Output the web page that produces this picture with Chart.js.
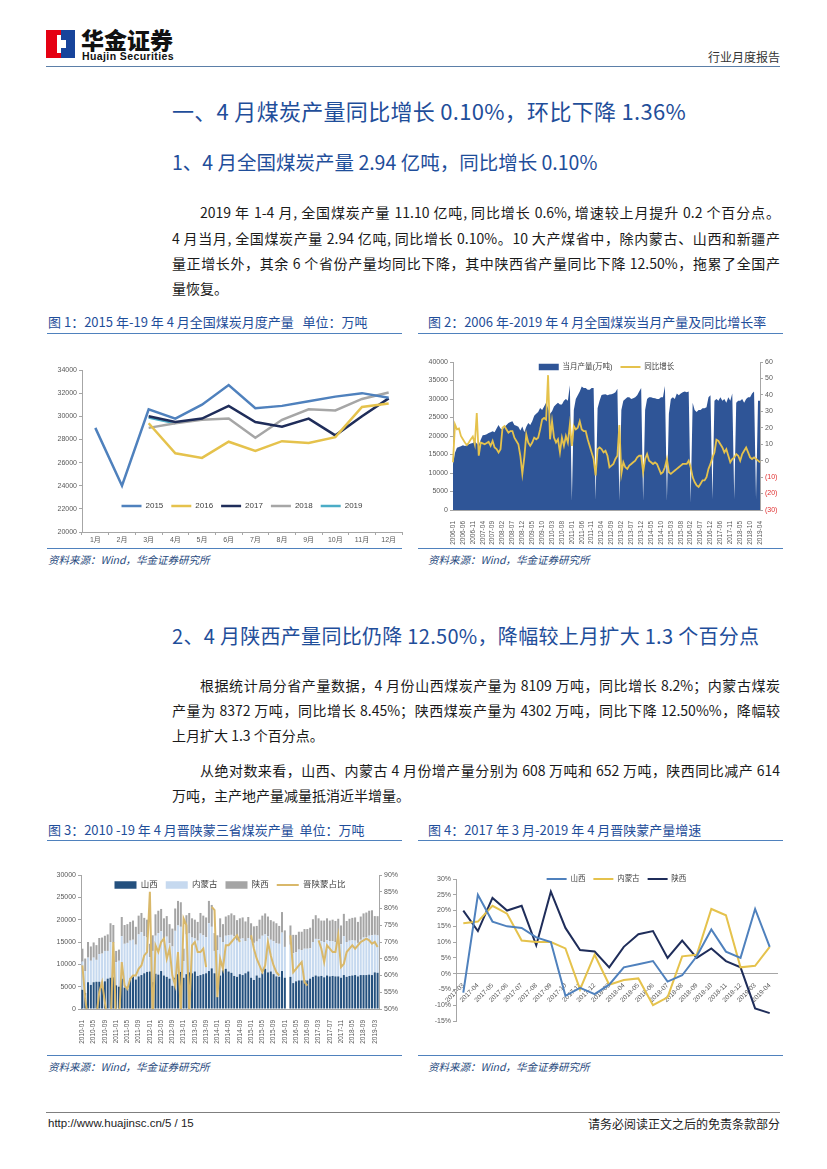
<!DOCTYPE html>
<html>
<head>
<meta charset="utf-8">
<script src="https://cdn.jsdelivr.net/npm/chart.js@4.4.1/dist/chart.umd.min.js"></script>
<style>
  body { margin: 0; background: #fff; width: 827px; height: 1169px; position: relative; overflow: hidden;
         font-family: 'Noto Sans CJK SC', sans-serif; color: #1a1a1a; }
  .a { position: absolute; white-space: nowrap; }
  .h1 { font-size: 22px; line-height: 24px; color: #1f4e9a; letter-spacing: 0.3px; }
  .h2 { font-size: 19.5px; line-height: 21px; color: #1f4e9a; }
  .p { font-size: 14px; line-height: 16px; }
  .j { text-align: justify; text-align-last: justify; }
  .cap { font-size: 13px; line-height: 14px; color: #1f4e9a; }
  .src { font-size: 10.5px; line-height: 12px; color: #1f497d; font-style: italic; }
  .rule { position: absolute; height: 0; border-top: 1.5px solid #4f81bd; }
  canvas { position: absolute; }
</style>
</head>
<body>
<!-- header -->
<div class="a" style="left:46px;top:30px;width:15px;height:28px;background:#e50012"></div>
<div class="a" style="left:61px;top:30px;width:14px;height:28px;background:#17449b"></div>
<div class="a" style="left:57px;top:35px;width:4px;height:18px;background:#fff"></div>
<div class="a" style="left:61px;top:40px;width:5px;height:8px;background:#fff"></div>
<div class="a" style="left:81px;top:26px;font-size:23px;line-height:26px;font-weight:900;color:#111">华金证券</div>
<div class="a" style="left:82px;top:51px;font-family:'Liberation Sans';font-size:10.5px;line-height:11px;font-weight:bold;color:#111;letter-spacing:0.4px">Huajin Securities</div>
<div class="a" style="right:47px;top:50px;font-size:12px;line-height:13px;color:#333">行业月度报告</div>
<div class="rule" style="left:46px;top:66px;width:734px;border-top:1.5px solid #5b7fa8"></div>

<div class="a h1" style="left:172px;top:98px">一、4 月煤炭产量同比增长 0.10%，环比下降 1.36%</div>
<div class="a h2" style="left:172px;top:151px">1、4 月全国煤炭产量 2.94 亿吨，同比增长 0.10%</div>

<div class="a p j" style="left:200px;top:204px;width:580px">2019 年 1-4 月, 全国煤炭产量 11.10 亿吨, 同比增长 0.6%, 增速较上月提升 0.2 个百分点。</div>
<div class="a p j" style="left:172px;top:230px;width:608px">4 月当月, 全国煤炭产量 2.94 亿吨, 同比增长 0.10%。10 大产煤省中，除内蒙古、山西和新疆产</div>
<div class="a p j" style="left:172px;top:255px;width:608px">量正增长外，其余 6 个省份产量均同比下降，其中陕西省产量同比下降 12.50%，拖累了全国产</div>
<div class="a p" style="left:172px;top:280px">量恢复。</div>

<div class="a cap" style="left:48px;top:315px">图 1：2015 年-19 年 4 月全国煤炭月度产量&nbsp;&nbsp;&nbsp;单位：万吨</div>
<div class="a cap" style="left:428px;top:315px">图 2：2006 年-2019 年 4 月全国煤炭当月产量及同比增长率</div>
<div class="rule" style="left:47px;top:333px;width:355px"></div>
<div class="rule" style="left:418px;top:333px;width:365px"></div>

<canvas id="c1" width="356" height="210" style="left:47px;top:336px"></canvas>
<canvas id="c2" width="366" height="211" style="left:418px;top:336px"></canvas>

<div class="rule" style="left:47px;top:548px;width:355px"></div>
<div class="rule" style="left:418px;top:548px;width:365px"></div>
<div class="a src" style="left:48px;top:554px">资料来源：Wind，华金证券研究所</div>
<div class="a src" style="left:428px;top:554px">资料来源：Wind，华金证券研究所</div>

<div class="a h2" style="left:172px;top:625px;font-size:20px;letter-spacing:0.3px">2、4 月陕西产量同比仍降 12.50%，降幅较上月扩大 1.3 个百分点</div>

<div class="a p j" style="left:200px;top:677px;width:580px">根据统计局分省产量数据，4 月份山西煤炭产量为 8109 万吨，同比增长 8.2%；内蒙古煤炭</div>
<div class="a p j" style="left:172px;top:702px;width:608px">产量为 8372 万吨，同比增长 8.45%；陕西煤炭产量为 4302 万吨，同比下降 12.50%%，降幅较</div>
<div class="a p" style="left:172px;top:727px">上月扩大 1.3 个百分点。</div>
<div class="a p j" style="left:200px;top:762px;width:580px">从绝对数来看，山西、内蒙古 4 月份增产量分别为 608 万吨和 652 万吨，陕西同比减产 614</div>
<div class="a p" style="left:172px;top:787px">万吨，主产地产量减量抵消近半增量。</div>

<div class="a cap" style="left:48px;top:823px">图 3：2010 -19 年 4 月晋陕蒙三省煤炭产量&nbsp;&nbsp;单位：万吨</div>
<div class="a cap" style="left:428px;top:823px">图 4：2017 年 3 月-2019 年 4 月晋陕蒙产量增速</div>
<div class="rule" style="left:47px;top:840px;width:355px"></div>
<div class="rule" style="left:418px;top:840px;width:365px"></div>

<canvas id="c3" width="356" height="212" style="left:47px;top:842px"></canvas>
<canvas id="c4" width="366" height="212" style="left:418px;top:842px"></canvas>

<div class="rule" style="left:47px;top:1055px;width:355px"></div>
<div class="rule" style="left:418px;top:1055px;width:365px"></div>
<div class="a src" style="left:48px;top:1061px">资料来源：Wind，华金证券研究所</div>
<div class="a src" style="left:428px;top:1061px">资料来源：Wind，华金证券研究所</div>

<!-- footer -->
<div class="rule" style="left:46px;top:1112px;width:734px;border-top:1px solid #7f7f7f"></div>
<div class="a" style="left:48px;top:1117px;font-family:'Liberation Sans';font-size:11.5px;line-height:13px;color:#222">http://www.huajinsc.cn/5 / 15</div>
<div class="a" style="right:47px;top:1117px;font-size:12px;line-height:13px;color:#222">请务必阅读正文之后的免责条款部分</div>

<script>
  // ---- 图1 data ----
  const months1 = ['1月', '2月', '3月', '4月', '5月', '6月', '7月', '8月', '9月', '10月', '11月', '12月'];
  const out2015 = [29000, 24000, 30600, 29800, 31000, 32700, 30700, 30900, 31300, 31700, 32000, 31600];
  const out2016 = [null, null, 29400, 26800, 26400, 27800, 27000, 27850, 27700, 28200, 30800, 31100];
  const out2017 = [null, null, 30000, 29500, 29800, 30900, 29500, 29100, 29800, 28350, 30000, 31550];
  const out2018 = [null, null, 29000, 29400, 29700, 29800, 28150, 29700, 30600, 30500, 31500, 32050];
  const out2019 = [null, null, 29900, 29400, null, null, null, null, null, null, null, null];

  // ---- 图2 data (monthly, Jan missing 2016-2019) ----
  function monthList(y0, y1, lastMonth, noJanFrom) {
    const out = [];
    for (let y = y0; y <= y1; y++) {
      for (let m = 1; m <= 12; m++) {
        if (y === y1 && m > lastMonth) break;
        if (y >= noJanFrom && m === 1) continue;
        out.push(y + '-' + String(m).padStart(2, '0'));
      }
    }
    return out;
  }
  const months2 = monthList(2006, 2019, 4, 2016);
  const output2 = [
    12300, 15500, 16800, 17000, 17200, 17500, 17300, 17500, 17800, 18000, 18100, 18600,
    18000, 17500, 19000, 20200, 20300, 20500, 20800, 21000, 21300, 21000, 22000, 23000,
    22000, 21700, 22500, 23000, 23500, 23800, 24000, 23000, 22800, 22500, 21500, 22600,
    21000, 22500, 23500, 23000, 24000, 25500, 26000, 26500, 27600, 27000, 28000, 29000,
    27500, 26000, 26700, 28000, 28500, 29000, 28500, 28500, 29500, 30000, 29500, 33700,
    2500, 27000, 30000, 31000, 32000, 33400, 33000, 33000, 32500, 32500, 33000, 33000,
    2800, 27500, 29500, 31100, 31200, 31300, 31000, 31200, 31300, 31500, 31800, 32800,
    2500, 27000, 29500, 30000, 30500, 30500, 30000, 30200, 30500, 31000, 32000, 33000,
    2500, 27000, 30000, 30500, 30500, 30300, 30200, 30000, 30000, 30500, 30500, 33500,
    2500, 26000, 30000, 30500, 30000, 31500, 31000, 31500, 31800, 32000, 31800, 32000,
    2000, 29000, 27000, 26500, 27000, 27000, 27500, 27500, 27800, 30500, 31000,
    3000, 29500, 30000, 29500, 30500, 29500, 30000, 29000, 30500, 29500, 31500,
    3000, 29000, 29500, 29500, 30000, 29000, 30000, 30500, 30500, 31500, 32000,
    3000, 29500, 29500
  ];
  const yoy2 = [
    -1, 22, 19, 19.5, 15, 13, 11, 9.5, 11, 13, 14.7, 10,
    29, 3, 11, 10.5, 10, 10.7, 11.5, 9, 12, 8, 7, 5,
    7, 20, 21, 19, 17, 18, 18, 14, 12, 10, 3, -8,
    2, 16, 11, 9, 11, 14, 13, 14, 19, 25, 26, 25,
    52, 13, 24, 14, 11, 13, 5, 14, 9, 15, 11, 22,
    9, 21, 19, 20, 24, 19, 18, 18, 13, 9, 5, 1,
    -9, 7, 8, 7, 5, 6, 3, -4, -3, -2, 1, 3,
    21.6, -8, -1, -4, -5, -3, -2, -1, 0, 2, 3, 3,
    -7, 1, 4, 0, -1, -2, -1, -2, -5, -8, -7, -4,
    1, -7, -8, -7, -6, -5, -4, -3, -2, -2, -2, 0,
    -4, -10, -13, -15, -16, -14, -12, -12, -10, -5, -2,
    2, 5, 12.7, 12, 10, 8, 5, 7, 3, -1, 1,
    2, 4, 3, 0, 4, 6, 8, 5, 2, 1, 2,
    1, 0, -1
  ];

  // ---- 图3 data (2016-02 empty, Jan/Feb missing from 2017) ----
  const months3 = monthList(2010, 2016, 12, 2099)
    .concat(monthList(2017, 2017, 12, 2017).filter(m => m !== '2017-02'))
    .concat(monthList(2018, 2018, 12, 2018).filter(m => m !== '2018-02'))
    .concat(['2019-03', '2019-04']);
  const shanxi3 = [
    4300, 3600, 6000, 5400, 6000, 6100, 6100, 6000, 6200, 6800, 7000, 7100,
    5300, 5000, 6800, 4800, 4500, 6800, 7300, 6600, 7300, 7600, 8000, 8300,
    8400, 6000, 7900, 7700, 8500, 7500, 7200, 6800, 5200, 7000, 7800, 8300,
    7000, 7800, 8200, 8000, 8400, 7400, 7600, 7800, 8000, 8500, 9100, 8000,
    2700, 7500, 8700, 9000, 8400, 8100, 7400, 7200, 7800, 7600, 8000, 8400,
    7000, 6500, 7500, 7000, 8000, 9000, 8200, 8400, 7800, 7300, 7200, 8500,
    7000, null, 7200, 5800, 6200, 6400, 6400, 6500, 6400, 6800, 7200, 7500,
    7300, 7400, 7100, 7500, 7300, 7400, 7300, 7300, 7000, 7600,
    7200, 7400, 7500, 7600, 7300, 7600, 7600, 7600, 7700, 7600,
    8200, 8109
  ];
  const neimeng3 = [
    6300, 4900, 5500, 5400, 5500, 4900, 6200, 6400, 6800, 6200, 8000, 7700,
    5200, 5800, 9500, 9800, 10300, 8500, 8200, 7800, 9400, 9600, 8300, 7700,
    3200, 7000, 8500, 9300, 8900, 8300, 9000, 7900, 8800, 10500, 10900, 10100,
    3700, 8900, 8700, 8000, 7400, 7900, 9300, 8700, 8100, 10700, 9300, 5000,
    10500, 8500, 6300, 7400, 8100, 8500, 8900, 8100, 7900, 8200, 7200, 7500,
    8500, 8300, 7600, 8700, 8400, 7700, 8100, 7100, 7400, 7400, 7400, 8600,
    6900, null, 7200, 6700, 6500, 6900, 6800, 7000, 7100, 6800, 7800, 8200,
    8300, 7800, 7900, 7900, 7900, 7800, 7700, 8000, 7500, 8700,
    7800, 7900, 7900, 7700, 7500, 7900, 8400, 8500, 8700, 8900,
    8400, 8372
  ];
  const shaanxi3 = [
    2900, 2800, 3500, 3200, 3400, 3300, 3600, 3600, 3400, 3700, 4200, 4000,
    2500, 2500, 4300, 4200, 4200, 4200, 4300, 4000, 4200, 4300, 4100, 4000,
    3000, 3500, 4800, 5000, 5000, 4500, 4600, 4300, 4000, 5000, 5500, 5500,
    2800, 4300, 4600, 4300, 4200, 4200, 4600, 4400, 4400, 5000, 4900, 4000,
    3300, 4300, 4000, 4300, 4500, 4800, 4700, 4600, 4600, 4700, 4400, 4700,
    3700, 3700, 3500, 4300, 4500, 4700, 4400, 4400, 4400, 4500, 4000, 4600,
    3700, null, 4300, 4100, 3900, 4000, 4100, 4400, 4400, 4600, 5100, 5300,
    4700, 4600, 4800, 4900, 4600, 4800, 4700, 4900, 4200, 5000,
    4700, 4900, 5000, 5200, 4700, 5200, 5400, 5500, 5600, 5600,
    4200, 4302
  ];
  const share3 = [
    63, 53, 47, 45, 46, 48, 55, 58, 52, 46, 44, 70,
    45, 46, 64, 57, 56, 59, 60, 60, 62, 63, 66, 67,
    85, 46, 69, 67, 70, 71, 65, 68, 60, 57, 67, 49,
    77, 75, 49, 69, 70, 67, 67, 68, 62.5, null, 80.5, 79.5,
    53.5, 65, 62, 69, 69, 70, 71, 72, 70, null, null, null,
    72, 68, 65, 63, 61, 63, 70, 66, 63, 61, 60, null,
    null, null, 72, 61, 62, 63, 64, 58, 57, null, null, null,
    70.5, 68, 64, 69, 68, 67, 67, 72, 62.5, 63.5,
    67, 68, 69, 68, 69, 70, 70.5, 71, 70.5, 69.5,
    70, 68.5
  ];

  // ---- 图4 data ----
  const months4 = ['2017-03', '2017-04', '2017-05', '2017-06', '2017-07', '2017-08', '2017-09', '2017-10', '2017-11', '2017-12',
    '2018-03', '2018-04', '2018-05', '2018-06', '2018-07', '2018-08', '2018-09', '2018-10', '2018-11', '2018-12',
    '2019-03', '2019-04'];
  const shanxi4 = [-6, 25, 16.5, 15, 14.5, 11.5, 10, -7, -4.5, -6.5, -3.5, 2, 3, 4, -2.5, -0.5, 5.5, 14, 7, 5, 20.5, 8.5];
  const neimeng4 = [16, 16.5, 21.5, 19, 10.5, 10, 10, 8, -5, 6, -3.5, -2, -1.5, -10, -7.5, 5.5, 6, 20.5, 18.5, 2, 2.5, 8.5];
  const shaanxi4 = [20, 13.5, 24, 20, 21.5, 9, 26, 14.5, 7.5, 7, 2, 8.5, 12.5, 13.5, 5, 10.5, 5, 8, 4, 2, -11, -12.5];

  // ---- shared setup ----
  Chart.defaults.font.family = "'Liberation Sans', 'Noto Sans CJK SC', sans-serif";
  Chart.defaults.color = '#595959';
  Chart.defaults.animation = false;
  Chart.defaults.plugins.tooltip.enabled = false;

  const axisGrey = '#a6a6a6';
  const LEG_PAD = 8;

  // moves the built-in legend inside the plot area (cy = row centre below chartArea top)
  const legendAt = {
    id: 'legendAt',
    afterLayout(chart, args, opts) {
      const lg = chart.legend, a = chart.chartArea;
      if (!lg) return;
      lg.left = a.left; lg.right = a.right; lg.width = a.right - a.left;
      lg.top = a.top + opts.cy - LEG_PAD - opts.fs / 2;
      lg.bottom = lg.top + 40; lg.height = 40;
    }
  };

  function legendOpts(fs, w) {
    return {
      position: 'top', maxHeight: 1,
      labels: {
        usePointStyle: true, pointStyleWidth: w, boxHeight: fs - 1, padding: LEG_PAD,
        font: { size: fs }, color: '#404040',
        sort: (a, b) => a.datasetIndex - b.datasetIndex
      }
    };
  }

  function lineDs(label, data, color, width, axisId, order) {
    return { type: 'line', label, data, borderColor: color, backgroundColor: color, borderWidth: width,
      pointRadius: 0, pointStyle: 'line', tension: 0, yAxisID: axisId || 'y', order: order || 0 };
  }

  function yAxis(min, max, step, width, fmt, pos) {
    return {
      position: pos || 'left', min, max,
      grid: { drawOnChartArea: false, tickLength: 3, color: axisGrey },
      border: { color: axisGrey },
      ticks: { stepSize: step, font: { size: 7 }, padding: 2, callback: fmt || (v => v) },
      afterFit: s => { s.width = width; }
    };
  }

  function rotatedX(every, height) {
    return {
      grid: { display: false }, border: { color: axisGrey },
      ticks: { autoSkip: false, minRotation: 90, maxRotation: 90, font: { size: 6.5 }, padding: 3,
        callback: function (v, i) { return i % every === 0 ? this.getLabelForValue(v) : ''; } },
      afterFit: s => { s.height = height; }
    };
  }

  // 图1
  new Chart(document.getElementById('c1'), {
    type: 'line',
    data: {
      labels: months1,
      datasets: [
        lineDs('2015', out2015, '#4f81bd', 2.5),
        lineDs('2016', out2016, '#e5c24c', 2.5),
        lineDs('2017', out2017, '#1f2d5a', 2.5),
        lineDs('2018', out2018, '#a6a6a6', 2.5),
        lineDs('2019', out2019, '#4bacc6', 2.5)
      ]
    },
    options: {
      responsive: false,
      layout: { padding: { top: 33, right: 1, left: 0, bottom: 0 } },
      scales: {
        x: {
          offset: true,
          grid: { offset: true, drawOnChartArea: false, tickLength: 3, color: axisGrey },
          border: { color: axisGrey },
          ticks: { autoSkip: false, maxRotation: 0, font: { size: 7 }, padding: 1 },
          afterFit: s => { s.height = 14; }
        },
        y: yAxis(20000, 34000, 2000, 35)
      },
      plugins: { legend: legendOpts(8, 20), legendAt: { cy: 136, fs: 8 } }
    },
    plugins: [legendAt]
  });

  // 图2
  const rightAxis2 = yAxis(-30, 60, 10, 24, v => v < 0 ? '(' + (-v) + ')' : v, 'right');
  rightAxis2.ticks.color = ctx => (ctx.tick && ctx.tick.value < 0) ? '#e03030' : '#595959';
  new Chart(document.getElementById('c2'), {
    type: 'line',
    data: {
      labels: months2,
      datasets: [
        { type: 'line', label: '当月产量(万吨)', data: output2, fill: 'origin', backgroundColor: '#2f5597',
          borderColor: '#2f5597', borderWidth: 0, pointRadius: 0, pointStyle: 'rect', tension: 0, yAxisID: 'y', order: 2 },
        lineDs('同比增长', yoy2, '#e5c24c', 1.8, 'y1', 1)
      ]
    },
    options: {
      responsive: false,
      layout: { padding: { top: 25, right: 0, left: 0, bottom: 0 } },
      scales: {
        x: rotatedX(5, 37),
        y: yAxis(0, 40000, 5000, 35),
        y1: rightAxis2
      },
      plugins: { legend: legendOpts(7.5, 20), legendAt: { cy: 5, fs: 7.5 } }
    },
    plugins: [legendAt]
  });

  // 图3
  new Chart(document.getElementById('c3'), {
    type: 'bar',
    data: {
      labels: months3,
      datasets: [
        { label: '山西', data: shanxi3, backgroundColor: '#24507e', pointStyle: 'rect', stack: 's', order: 2 },
        { label: '内蒙古', data: neimeng3, backgroundColor: '#c6d9ef', pointStyle: 'rect', stack: 's', order: 2 },
        { label: '陕西', data: shaanxi3, backgroundColor: '#a5a5a5', pointStyle: 'rect', stack: 's', order: 2 },
        lineDs('晋陕蒙占比', share3, '#d9b86a', 2, 'y1', 1)
      ]
    },
    options: {
      responsive: false,
      datasets: { bar: { barPercentage: 0.72, categoryPercentage: 1 } },
      layout: { padding: { top: 32, right: 0, left: 0, bottom: 0 } },
      scales: {
        x: Object.assign(rotatedX(4, 45), { stacked: true }),
        y: Object.assign(yAxis(0, 30000, 5000, 34), { stacked: true }),
        y1: yAxis(50, 90, 5, 24, v => v + '%', 'right')
      },
      plugins: { legend: legendOpts(8.5, 22), legendAt: { cy: 10, fs: 8.5 } }
    },
    plugins: [legendAt]
  });

  // 图4
  new Chart(document.getElementById('c4'), {
    type: 'line',
    data: {
      labels: months4,
      datasets: [
        lineDs('山西', shanxi4, '#4f81bd', 2),
        lineDs('内蒙古', neimeng4, '#e5c24c', 2),
        lineDs('陕西', shaanxi4, '#1f2d5a', 2)
      ]
    },
    options: {
      responsive: false,
      layout: { padding: { top: 36, right: 7, left: 0, bottom: 33 } },
      scales: {
        x: {
          position: { y: 0 }, offset: true,
          grid: { display: false }, border: { color: axisGrey },
          ticks: { autoSkip: false, minRotation: 45, maxRotation: 45, font: { size: 6.5 }, padding: 0 }
        },
        y: yAxis(-15, 30, 5, 38, v => v + '%')
      },
      plugins: { legend: legendOpts(7.5, 20), legendAt: { cy: 0, fs: 7.5 } }
    },
    plugins: [legendAt]
  });
</script>
</body>
</html>
